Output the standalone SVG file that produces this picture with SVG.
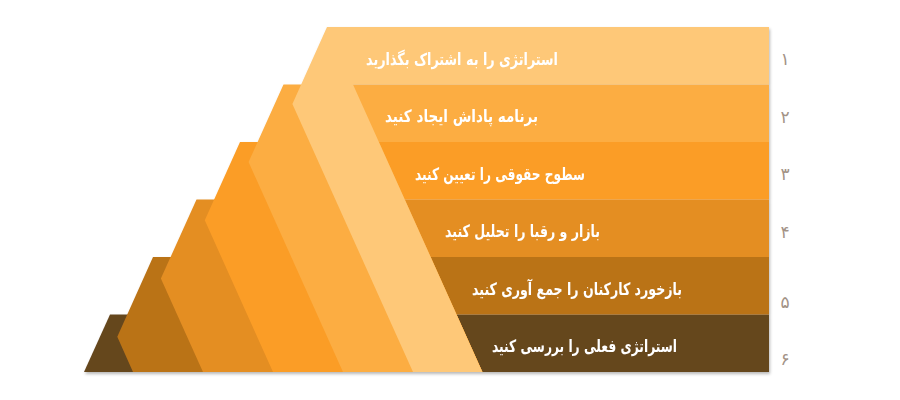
<svg xmlns="http://www.w3.org/2000/svg" width="900" height="400" viewBox="0 0 900 400">
<defs>
<style>
.lbl{font-family:"DejaVu Sans",sans-serif;font-weight:bold;font-size:17px;fill:#ffffff}
.num{font-family:"DejaVu Sans",sans-serif;font-size:17px;fill:#a39387;text-anchor:middle}
</style>
<filter id="sh" x="-5%" y="-5%" width="110%" height="115%">
<feDropShadow dx="1" dy="2" stdDeviation="1.8" flood-color="#000" flood-opacity="0.28"/>
</filter>
</defs>
<rect width="900" height="400" fill="#ffffff"/>
<g id="pyramid" filter="url(#sh)">
<g id="step6">
<polygon points="110,314.5 769,314.5 769,372 84,372" fill="#65471f"/>
<text class="lbl" x="492" y="352" textLength="185" lengthAdjust="spacingAndGlyphs">استراتژی فعلی را بررسی کنید</text>
</g>
<g id="step5">
<polygon points="153,257 769,257 769,314.5 456.5,314.5 482.4,372 133,372 117.3,336.7" fill="#ba7319"/>
<text class="lbl" x="472" y="294.5" textLength="210" lengthAdjust="spacingAndGlyphs">بازخورد کارکنان را جمع آوری کنید</text>
</g>
<g id="step4">
<polygon points="196.5,199.5 769,199.5 769,257 430.6,257 482.4,372 203,372 160.9,278.5" fill="#e48e24"/>
<text class="lbl" x="445" y="237" textLength="155" lengthAdjust="spacingAndGlyphs">بازار و رقبا را تحلیل کنید</text>
</g>
<g id="step3">
<polygon points="240,142 769,142 769,199.5 404.75,199.5 482.4,372 273,372 204.8,220.3" fill="#fb9d27"/>
<text class="lbl" x="415" y="179.5" textLength="170" lengthAdjust="spacingAndGlyphs">سطوح حقوقی را تعیین کنید</text>
</g>
<g id="step2">
<polygon points="283.5,84.5 769,84.5 769,142 378.9,142 482.4,372 343,372 248.6,162.1" fill="#fcad42"/>
<text class="lbl" x="385" y="122" textLength="153" lengthAdjust="spacingAndGlyphs">برنامه پاداش ایجاد کنید</text>
</g>
<g id="step1">
<polygon points="327,27 769,27 769,84.5 353,84.5 482.4,372 413,372 292.4,104" fill="#fec878"/>
<text class="lbl" x="366" y="64.5" textLength="192" lengthAdjust="spacingAndGlyphs">استراتژی را به اشتراک بگذارید</text>
</g>
</g>
<g id="numbers">
<text class="num" x="785" y="65">۱</text>
<text class="num" x="785" y="123">۲</text>
<text class="num" x="785" y="180">۳</text>
<text class="num" x="785" y="238">۴</text>
<text class="num" x="785" y="308">۵</text>
<text class="num" x="785" y="365">۶</text>
</g>
</svg>
